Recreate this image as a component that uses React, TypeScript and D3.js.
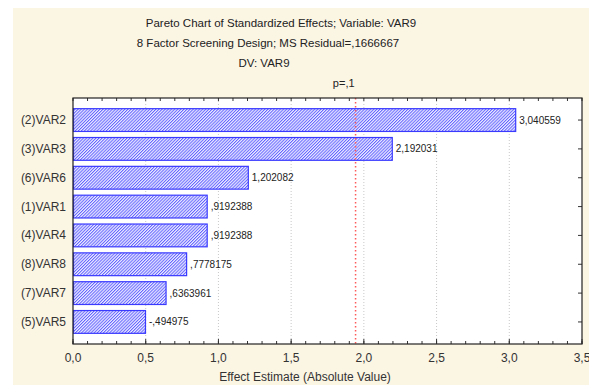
import React from "react";
import * as d3 from "d3";

// effects, sorted as in the pareto chart
const effectNames = ["(2)VAR2", "(3)VAR3", "(6)VAR6", "(1)VAR1", "(4)VAR4", "(8)VAR8", "(7)VAR7", "(5)VAR5"];
const effectValues = [3.040559, 2.192031, 1.202082, 0.9192388, 0.9192388, 0.7778175, 0.6363961, 0.494975];
const effectLabels = ["3,040559", "2,192031", "1,202082", ",9192388", ",9192388", ",7778175", ",6363961", "-,494975"];
const xTicks = [0, 0.5, 1, 1.5, 2, 2.5, 3, 3.5];
const xTickLabels = ["0,0", "0,5", "1,0", "1,5", "2,0", "2,5", "3,0", "3,5"];
const gridValues = [0.5, 1, 1.5, 2, 2.5, 3];
const minorTicks = d3.range(0, 36).map((d) => d / 10);
const pCritical = 1.943;

const titleLines = [
  "Pareto Chart of Standardized Effects; Variable: VAR9",
  "8 Factor Screening Design; MS Residual=,1666667",
  "DV: VAR9",
];

const W = 589;
const H = 385;
const plot = { left: 73, right: 582, top: 98, bottom: 344 };
const font = "'Liberation Sans', Arial, sans-serif";

const App = () => {
  const x = d3.scaleLinear().domain([0, 3.5]).range([plot.left, plot.right]);
  const y = d3
    .scaleBand()
    .domain(effectNames)
    .range([plot.top, plot.bottom])
    .paddingInner(0.21)
    .paddingOuter(0.37);

  const titleX = [281, 268, 264];
  const titleY = [27, 47, 67];

  return (
    <div style={{ position: "absolute", left: 0, top: 0 }}>
      <svg width={W} height={H} style={{ display: "block" }}>
        <defs>
          <pattern
            id="hatch"
            width={2.2}
            height={4}
            patternUnits="userSpaceOnUse"
            patternTransform="rotate(45)"
          >
            <rect width={2.2} height={4} fill="#eeeeff" />
            <rect width={1} height={4} fill="#6262ff" />
          </pattern>
        </defs>
        <rect x={0} y={0} width={W} height={H} fill="#ffffff" />
        <rect x={13} y={8} width={W - 13} height={H - 8} fill="#fbf5e4" />

        {/* titles */}
        {titleLines.map((t, i) => (
          <text
            key={t}
            x={titleX[i]}
            y={titleY[i]}
            textAnchor="middle"
            fontFamily={font}
            fontSize={11.5}
            fill="#222"
          >
            {t}
          </text>
        ))}

        {/* plot area */}
        <rect
          x={plot.left}
          y={plot.top}
          width={plot.right - plot.left}
          height={plot.bottom - plot.top}
          fill="#ffffff"
        />

        {/* grid */}
        {gridValues.map((v) => (
          <line
            key={"g" + v}
            x1={x(v)}
            x2={x(v)}
            y1={plot.top}
            y2={plot.bottom}
            stroke="#c8c8c8"
            strokeWidth={1}
            strokeDasharray="1,2"
          />
        ))}

        {/* bars */}
        {effectNames.map((name, i) => (
          <g key={name}>
            <rect
              x={x(0) + 0.5}
              y={y(name)!}
              width={x(effectValues[i]) - x(0)}
              height={y.bandwidth()}
              fill="url(#hatch)"
              stroke="#3a3aff"
              strokeWidth={1.2}
            />
            <text
              x={x(effectValues[i]) + 4}
              y={y(name)! + y.bandwidth() / 2 + 3.5}
              fontFamily={font}
              fontSize={10}
              fill="#222"
            >
              {effectLabels[i]}
            </text>
            <text
              x={66}
              y={y(name)! + y.bandwidth() / 2 + 4}
              textAnchor="end"
              fontFamily={font}
              fontSize={12}
              fill="#333"
            >
              {name}
            </text>
            <line
              x1={plot.right}
              x2={plot.right - 4}
              y1={y(name)! + y.bandwidth() / 2}
              y2={y(name)! + y.bandwidth() / 2}
              stroke="#333"
            />
          </g>
        ))}

        {/* critical value line */}
        <line
          x1={x(pCritical)}
          x2={x(pCritical)}
          y1={plot.top}
          y2={plot.bottom}
          stroke="#ff5a5a"
          strokeWidth={1.5}
          strokeDasharray="1.5,2.5"
        />
        <text
          x={x(pCritical) - 1}
          y={87}
          textAnchor="end"
          fontFamily={font}
          fontSize={11}
          fill="#222"
        >
          p=,1
        </text>

        {/* minor ticks top and bottom */}
        {minorTicks.map((v) => (
          <g key={"m" + v}>
            <line x1={x(v)} x2={x(v)} y1={plot.bottom} y2={plot.bottom - 3} stroke="#333" />
            <line x1={x(v)} x2={x(v)} y1={plot.top} y2={plot.top + 3} stroke="#333" />
          </g>
        ))}

        {/* frame */}
        <rect
          x={plot.left}
          y={plot.top}
          width={plot.right - plot.left}
          height={plot.bottom - plot.top}
          fill="none"
          stroke="#222"
          strokeWidth={1.2}
        />

        {/* x tick labels */}
        {xTicks.map((v, i) => (
          <g key={"t" + v}>
            <line x1={x(v)} x2={x(v)} y1={plot.bottom} y2={plot.bottom - 5} stroke="#333" />
            <text
              x={x(v)}
              y={362}
              textAnchor="middle"
              fontFamily={font}
              fontSize={12}
              fill="#333"
            >
              {xTickLabels[i]}
            </text>
          </g>
        ))}

        <text
          x={305}
          y={381}
          textAnchor="middle"
          fontFamily={font}
          fontSize={12}
          fill="#333"
        >
          Effect Estimate (Absolute Value)
        </text>
      </svg>
    </div>
  );
};

export default App;
